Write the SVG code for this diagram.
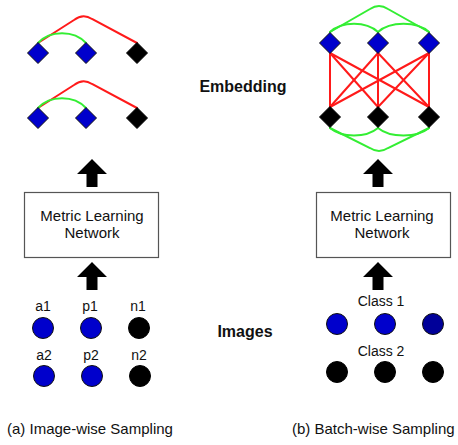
<svg xmlns="http://www.w3.org/2000/svg" width="458" height="445" viewBox="0 0 458 445">
  <style>
    text { font-family: "Liberation Sans", Arial, sans-serif; fill: #111; }
    .lbl { font-size: 14px; text-anchor: middle; }
    .head { font-size: 16px; font-weight: bold; text-anchor: middle; }
    .box-t { font-size: 15px; text-anchor: middle; }
    .cap { font-size: 15px; }
    .box { fill: #fff; stroke: #555; stroke-width: 1.2; }
    .red { fill: none; stroke: #ff1a1a; stroke-width: 2; stroke-linecap: round; }
    .grn { fill: none; stroke: #33ee33; stroke-width: 2; stroke-linecap: round; }
    .blue { fill: #0000cc; stroke: #111; stroke-width: 1; }
    .dblue { fill: #000099; stroke: #111; stroke-width: 1; }
    .blk { fill: #000; stroke: #000; stroke-width: 1; }
    .arrow { fill: #000; }
  </style>
  <defs>
    <polygon id="dia" points="0,-10.5 10.5,0 0,10.5 -10.5,0"/>
    <polygon id="up" points="0,0 15,15 5.5,15 5.5,28 -5.5,28 -5.5,15 -15,15"/>
  </defs>

  <!-- connectors -->
  <g id="connectors">
    <!-- image-wise triplet 1 -->
    <path class="red" d="M38,43 L74,20 Q83,13 92,19 L137,43"/>
    <path class="grn" d="M38,43 C50,30 74,30 86,43"/>
    <!-- image-wise triplet 2 -->
    <path class="red" d="M38,108 L74,85 Q83,78 92,84 L137,108"/>
    <path class="grn" d="M38,108 C50,95 74,95 86,108"/>
    <!-- batch-wise: positives among class 1 -->
    <path class="grn" d="M330,32 C342,21 366,21 378,32"/>
    <path class="grn" d="M378,32 C390,21 417,21 429,32"/>
    <path class="grn" d="M330,32 L370,9 Q379,3 388,9 L429,32"/>
    <!-- batch-wise: positives among class 2 -->
    <path class="grn" d="M330,128 C342,138 366,138 378,128"/>
    <path class="grn" d="M378,128 C390,138 417,138 429,128"/>
    <path class="grn" d="M330,128 L370,148 Q379,154 388,148 L429,128"/>
    <!-- batch-wise: negatives between classes -->
    <g class="red">
      <path d="M330,53 L330,107 M330,53 L378,107 M330,53 L429,107"/>
      <path d="M378,53 L330,107 M378,53 L378,107 M378,53 L429,107"/>
      <path d="M429,53 L330,107 M429,53 L378,107 M429,53 L429,107"/>
    </g>
    <!-- flow arrows -->
    <use href="#up" class="arrow" x="92" y="159"/>
    <use href="#up" class="arrow" x="92" y="262"/>
    <use href="#up" class="arrow" x="378" y="159"/>
    <use href="#up" class="arrow" x="378" y="262"/>
  </g>

  <!-- embeddings, image-wise -->
  <g id="emb-a1"><use href="#dia" class="blue" x="38" y="53"/></g>
  <g id="emb-p1"><use href="#dia" class="blue" x="86" y="53"/></g>
  <g id="emb-n1"><use href="#dia" class="blk" x="137" y="53"/></g>
  <g id="emb-a2"><use href="#dia" class="blue" x="38" y="118"/></g>
  <g id="emb-p2"><use href="#dia" class="blue" x="86" y="118"/></g>
  <g id="emb-n2"><use href="#dia" class="blk" x="137" y="118"/></g>

  <!-- embeddings, batch-wise -->
  <g id="emb-c1"><use href="#dia" class="blue" x="330" y="43"/><use href="#dia" class="blue" x="378" y="43"/><use href="#dia" class="blue" x="429" y="43"/></g>
  <g id="emb-c2"><use href="#dia" class="blk" x="330" y="117"/><use href="#dia" class="blk" x="378" y="117"/><use href="#dia" class="blk" x="429" y="117"/></g>

  <!-- headings -->
  <g id="embedding-label"><text class="head" x="243" y="92">Embedding</text></g>
  <g id="images-label"><text class="head" x="245" y="337">Images</text></g>

  <!-- networks -->
  <g id="net-a">
    <rect class="box" x="24.5" y="192.5" width="134" height="65"/>
    <text class="box-t" x="92" y="221">Metric Learning</text>
    <text class="box-t" x="92" y="238">Network</text>
  </g>
  <g id="net-b">
    <rect class="box" x="316.5" y="192.5" width="134" height="65"/>
    <text class="box-t" x="382" y="221">Metric Learning</text>
    <text class="box-t" x="382" y="238">Network</text>
  </g>

  <!-- images, image-wise -->
  <g id="img-a">
    <text class="lbl" x="43" y="311">a1</text>
    <text class="lbl" x="90" y="311">p1</text>
    <text class="lbl" x="138" y="311">n1</text>
    <circle class="blue" cx="43" cy="328" r="10.5"/>
    <circle class="blue" cx="91" cy="328" r="10.5"/>
    <circle class="blk" cx="139" cy="328" r="10.5"/>
    <text class="lbl" x="44" y="360">a2</text>
    <text class="lbl" x="91" y="360">p2</text>
    <text class="lbl" x="139" y="360">n2</text>
    <circle class="blue" cx="44" cy="376" r="10.5"/>
    <circle class="blue" cx="92" cy="376" r="10.5"/>
    <circle class="blk" cx="140" cy="376" r="10.5"/>
  </g>

  <!-- images, batch-wise -->
  <g id="img-b">
    <text class="lbl" x="381" y="306">Class 1</text>
    <circle class="blue" cx="337" cy="324" r="10.5"/>
    <circle class="blue" cx="385" cy="324" r="10.5"/>
    <circle class="dblue" cx="433" cy="324" r="10.5"/>
    <text class="lbl" x="381" y="356">Class 2</text>
    <circle class="blk" cx="337" cy="372" r="10.5"/>
    <circle class="blk" cx="385" cy="372" r="10.5"/>
    <circle class="blk" cx="433" cy="372" r="10.5"/>
  </g>

  <!-- captions -->
  <g id="captions">
    <text class="cap" x="7" y="434">(a) Image-wise Sampling</text>
    <text class="cap" x="292" y="434">(b) Batch-wise Sampling</text>
  </g>
</svg>
